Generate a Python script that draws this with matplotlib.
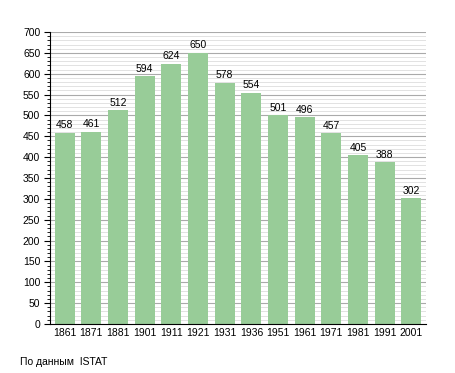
import matplotlib
matplotlib.use("Agg")
import matplotlib.pyplot as plt
import numpy as np

years = ["1861", "1871", "1881", "1901", "1911", "1921", "1931", "1936", "1951", "1961", "1971", "1981", "1991", "2001"]
values = [458, 461, 512, 594, 624, 650, 578, 554, 501, 496, 457, 405, 388, 302]
source = "По данным  ISTAT"

plt.rcParams['font.family'] = ['Liberation Sans', 'DejaVu Sans']
fig = plt.figure(figsize=(4.55, 3.73), dpi=100)
ax = fig.add_axes([50/455, 1-324/373, 376/455, 292/373])

x = np.arange(len(years))
for y in range(10, 700, 10):
    if y % 50 == 0:
        ax.axhline(y, color='#aaaaaa', lw=0.8, zorder=0)
    else:
        ax.axhline(y, color='#dddddd', lw=0.6, zorder=0)
ax.axhline(700, color='#aaaaaa', lw=0.8, zorder=0)

ax.bar(x, values, width=0.74, color='#98cc98', zorder=2)
for xi, v in zip(x, values):
    ax.text(xi, v + 6, str(v), ha='center', va='bottom', fontsize=7.5, zorder=3)

ax.set_xlim(-0.55, len(years) - 0.45)
ax.set_ylim(0, 700)
ax.set_xticks(x)
ax.set_xticklabels(years, fontsize=7.5)
ax.set_yticks(range(0, 701, 50))
ax.set_yticklabels([str(v) for v in range(0, 701, 50)], fontsize=7.5)
ax.set_yticks(range(0, 701, 10), minor=True)
ax.tick_params(axis='x', length=0, pad=3)
ax.tick_params(axis='y', which='major', length=4, width=0.8, direction='out', pad=3)
ax.tick_params(axis='y', which='minor', length=2, width=0.6, direction='out')
for s in ['top', 'right']:
    ax.spines[s].set_visible(False)
ax.spines['left'].set_color('black')
ax.spines['bottom'].set_color('black')

fig.text(20/455, 1-362/373, source, fontsize=7.5, va='center', ha='left')
fig.savefig("out.png", dpi=100)
